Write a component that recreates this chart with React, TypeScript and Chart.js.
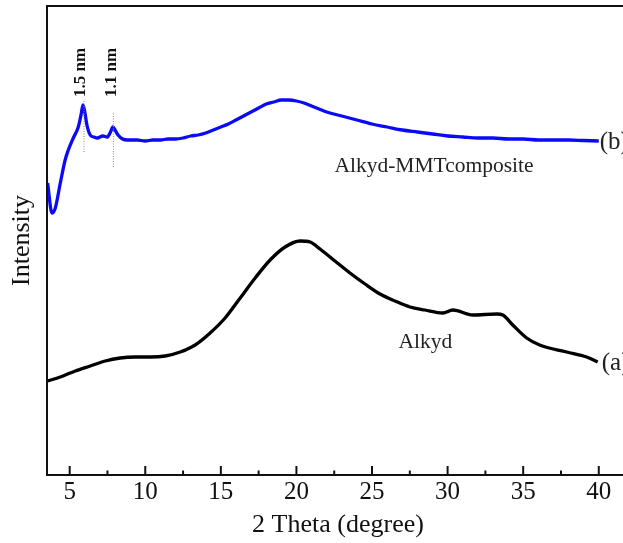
import React, { useEffect, useRef } from "react";
import { Chart, registerables } from "chart.js";

Chart.register(...registerables);

// 2θ (degree) and intensity (a.u.)
const compositeX = [3.54, 3.83, 4.05, 4.38, 4.7, 4.91, 5.24, 5.57, 5.75, 5.88, 6.0, 6.14, 6.36, 6.6, 6.82, 7.2, 7.49, 7.7, 7.86, 8.0, 8.2, 8.5, 8.81, 9.46, 10, 10.5, 11, 11.5, 12, 12.5, 13, 13.5, 14, 14.5, 15, 15.5, 16, 16.5, 17, 17.5, 18, 18.5, 19, 19.5, 20, 20.5, 21, 21.5, 22, 23, 24, 25, 26, 27, 28, 29, 30, 31, 32, 33, 34, 35, 36, 37, 38, 39, 40];
const compositeY = [292, 262, 267, 292, 315, 325, 337, 348, 360, 370, 363, 350, 340, 338, 337, 339, 338, 343, 348, 345, 340, 336, 335, 335, 334, 335, 335, 336, 336, 337, 339, 340, 342, 345, 348, 351, 355, 359, 363, 367, 371, 373, 375, 375, 374, 372, 369, 366, 363, 359, 355, 351, 348, 345, 343, 341, 339, 338, 337, 337, 336, 336, 335, 335, 335, 334.5, 334];

const alkydX = [3.52, 4.38, 5.37, 6.36, 7.35, 8.34, 9.33, 10.33, 11.32, 12.31, 13.3, 14.29, 15.28, 16.28, 17.27, 18.26, 19.25, 20.24, 20.9, 21.56, 22.55, 23.54, 24.54, 25.53, 26.52, 27.51, 28.5, 29.69, 30.35, 31.67, 33.26, 33.65, 34.31, 35.23, 36.09, 37.88, 39.2, 39.93];
const alkydY = [94, 98, 104, 109, 114, 117, 118, 118, 119, 123, 130, 142, 157, 177, 197, 215, 228, 234, 233, 226, 214, 202, 191, 181, 174, 168, 165, 162, 165, 160, 161, 160, 150, 137, 130, 123, 118, 113];

const tickValues = [5, 10, 15, 20, 25, 30, 35, 40];
const minorTickValues = [7.5, 12.5, 17.5, 22.5, 27.5, 32.5, 37.5];

const peakLabels = ["1.5 nm", "1.1 nm"];
const peakLabelX = [5.75, 7.75];
const peakLabelY = [402.5, 402.5];
const peakLineX = [5.95, 7.89];
const peakLineFrom = [323, 308];
const peakLineTo = [375, 362];

const curveLabels = ["Alkyd-MMTcomposite", "Alkyd", "(b)", "(a)"];
const curveLabelX = [29.1, 28.53, 40.06, 40.2];
const curveLabelY = [303, 127, 326, 105];

const SERIF = "'Liberation Serif', 'Times New Roman', serif";

const decorPlugin = {
  id: "decor",
  afterDatasetsDraw(chart: any) {
    const { ctx, chartArea, scales } = chart;
    const xs = scales.x;
    const ys = scales.y;
    ctx.save();
    // frame
    ctx.strokeStyle = "#111";
    ctx.lineWidth = 2;
    ctx.strokeRect(chartArea.left, chartArea.top, chartArea.right - chartArea.left, chartArea.bottom - chartArea.top);
    // inward ticks
    ctx.lineWidth = 2;
    tickValues.forEach((v) => {
      const px = xs.getPixelForValue(v);
      ctx.beginPath();
      ctx.moveTo(px, chartArea.bottom);
      ctx.lineTo(px, chartArea.bottom - 9);
      ctx.stroke();
    });
    minorTickValues.forEach((v) => {
      const px = xs.getPixelForValue(v);
      ctx.beginPath();
      ctx.moveTo(px, chartArea.bottom);
      ctx.lineTo(px, chartArea.bottom - 4.5);
      ctx.stroke();
    });
    // dotted peak lines
    ctx.strokeStyle = "#8a8a8a";
    ctx.lineWidth = 1;
    ctx.setLineDash([1, 1.5]);
    peakLineX.forEach((v, i) => {
      const px = xs.getPixelForValue(v);
      ctx.beginPath();
      ctx.moveTo(px, ys.getPixelForValue(peakLineFrom[i]));
      ctx.lineTo(px, ys.getPixelForValue(peakLineTo[i]));
      ctx.stroke();
    });
    ctx.setLineDash([]);
    // rotated peak labels
    ctx.fillStyle = "#111";
    ctx.font = `bold 17px ${SERIF}`;
    ctx.textAlign = "center";
    ctx.textBaseline = "middle";
    peakLabels.forEach((t, i) => {
      ctx.save();
      ctx.translate(xs.getPixelForValue(peakLabelX[i]), ys.getPixelForValue(peakLabelY[i]));
      ctx.rotate(-Math.PI / 2);
      ctx.fillText(t, 0, 0);
      ctx.restore();
    });
    // curve labels
    ctx.textBaseline = "alphabetic";
    ctx.fillStyle = "#222";
    curveLabels.forEach((t, i) => {
      const px = xs.getPixelForValue(curveLabelX[i]);
      const py = ys.getPixelForValue(curveLabelY[i]);
      if (i < 2) {
        ctx.font = `21.5px ${SERIF}`;
        ctx.textAlign = "center";
      } else {
        ctx.font = `25px ${SERIF}`;
        ctx.textAlign = "left";
      }
      ctx.fillText(t, px, py);
    });
    ctx.restore();
  },
};

export default function App() {
  const ref = useRef<HTMLCanvasElement | null>(null);
  useEffect(() => {
    if (!ref.current) return;
    const chart = new Chart(ref.current, {
      type: "line",
      data: {
        datasets: [
          {
            label: "Alkyd-MMT composite (b)",
            data: compositeX.map((x, i) => ({ x, y: compositeY[i] })),
            borderColor: "#0a0af8",
            borderWidth: 3.3,
            pointRadius: 0,
            cubicInterpolationMode: "monotone",
            fill: false,
          },
          {
            label: "Alkyd (a)",
            data: alkydX.map((x, i) => ({ x, y: alkydY[i] })),
            borderColor: "#000000",
            borderWidth: 3.3,
            pointRadius: 0,
            cubicInterpolationMode: "monotone",
            fill: false,
          },
        ],
      },
      options: {
        animation: false,
        responsive: false,
        devicePixelRatio: 1,
        layout: { padding: { top: 6, left: 0, right: 31, bottom: 0 } },
        plugins: { legend: { display: false }, tooltip: { enabled: false } },
        scales: {
          x: {
            type: "linear",
            min: 3.5,
            max: 42,
            afterBuildTicks: (scale: any) => {
              scale.ticks = tickValues.map((v) => ({ value: v }));
            },
            afterFit: (scale: any) => {
              scale.height = 68;
            },
            grid: { display: false, drawTicks: false },
            border: { display: false },
            ticks: {
              padding: 2,
              color: "#111",
              font: { family: SERIF, size: 25 },
              maxRotation: 0,
              autoSkip: false,
            },
            title: {
              display: true,
              text: "2 Theta (degree)",
              color: "#111",
              font: { family: SERIF, size: 26, lineHeight: 1.2 },
              padding: { top: 0, bottom: 2 },
            },
          },
          y: {
            type: "linear",
            min: 0,
            max: 469,
            afterFit: (scale: any) => {
              scale.width = 47;
            },
            grid: { display: false, drawTicks: false },
            border: { display: false },
            ticks: { display: false },
            title: {
              display: true,
              text: "Intensity",
              color: "#111",
              font: { family: SERIF, size: 26, lineHeight: 1.2 },
              padding: { top: 7, bottom: 0 },
            },
          },
        },
      },
      plugins: [decorPlugin],
    });
    return () => chart.destroy();
  }, []);
  return (
    <div style={{ position: "fixed", left: 0, top: 0, width: 623, height: 543, overflow: "hidden", background: "#fff" }}>
      <canvas ref={ref} width={660} height={543} style={{ display: "block" }} />
    </div>
  );
}
